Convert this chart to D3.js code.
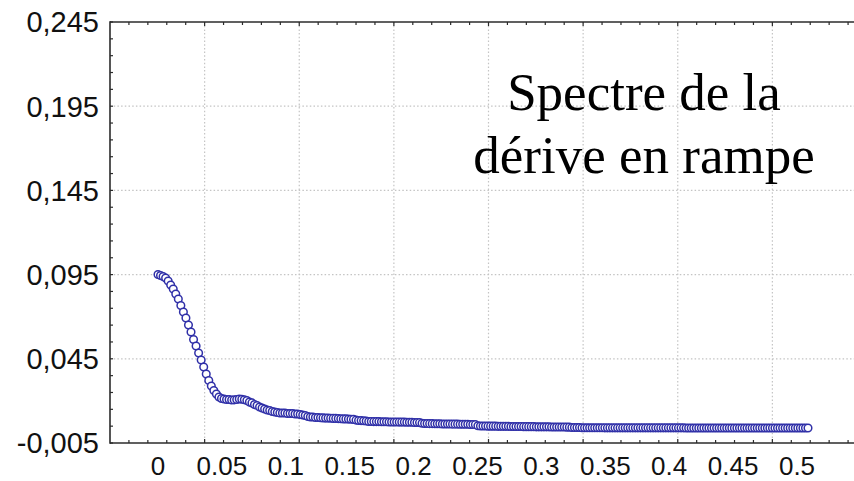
<!DOCTYPE html>
<html>
<head>
<meta charset="utf-8">
<script src="https://cdn.jsdelivr.net/npm/d3@7"></script>
<style>
  html, body { margin: 0; padding: 0; background: #fff; }
  svg { display: block; }
</style>
</head>
<body>
<svg id="chart" width="854" height="481"></svg>
<script>
// ---------------- DATA ----------------
const titleLines = ["Spectre de la", "dérive en rampe"];
const xTickLabels = ["0", "0.05", "0.1", "0.15", "0.2", "0.25", "0.3", "0.35", "0.4", "0.45", "0.5"];
const yTickValues = [-0.005, 0.045, 0.095, 0.145, 0.195, 0.245];
const freqStep = 1 / 512;
const spectrum = [
  0.0951, 0.0945, 0.0939, 0.0930, 0.0912, 0.0888, 0.0864, 0.0835, 0.0805, 0.0766,
  0.0728, 0.0692, 0.0651, 0.0609, 0.0565, 0.0526, 0.0484, 0.0443, 0.0401, 0.0360,
  0.0321, 0.0288, 0.0262, 0.0241, 0.0223,
  0.0214, 0.0211, 0.0208, 0.0208, 0.0205, 0.0206, 0.0208, 0.0211, 0.0210, 0.0207,
  0.0202, 0.0193, 0.0188, 0.0179, 0.0173, 0.0164, 0.0158, 0.0152, 0.0146, 0.0143,
  0.0137, 0.0134, 0.0131, 0.0128, 0.0128, 0.0128, 0.0125, 0.0125, 0.0125, 0.0122,
  0.0122, 0.0119, 0.0116, 0.0113, 0.0107, 0.0104, 0.0104,
  0.0101, 0.0101, 0.0100, 0.0099, 0.0098, 0.0098, 0.0097, 0.0096, 0.0096, 0.0095,
  0.0094, 0.0093, 0.0093, 0.0092, 0.0091, 0.0090,
  0.0086, 0.0084, 0.0083, 0.0082, 0.0081,
  0.0078, 0.0078, 0.0077, 0.0077, 0.0077, 0.0076, 0.0076, 0.0076, 0.0075, 0.0075,
  0.0075, 0.0075, 0.0074, 0.0074, 0.0074, 0.0073, 0.0073, 0.0073, 0.0072, 0.0072, 0.0071,
  0.0067, 0.0066, 0.0066, 0.0065, 0.0065, 0.0064, 0.0064, 0.0064, 0.0063, 0.0063,
  0.0063, 0.0063, 0.0062, 0.0062, 0.0062, 0.0061, 0.0061, 0.0061, 0.0061, 0.0060,
  0.0060, 0.0059,
  0.0052, 0.0051, 0.0051, 0.0051, 0.0050, 0.0050, 0.0050, 0.0050, 0.0049, 0.0049,
  0.0049, 0.0049, 0.0049, 0.0048, 0.0048, 0.0048, 0.0048, 0.0048, 0.0047, 0.0047,
  0.0047, 0.0047, 0.0047, 0.0046, 0.0046, 0.0046, 0.0046, 0.0046, 0.0046, 0.0045,
  0.0045, 0.0045, 0.0045, 0.0045, 0.0045, 0.0044, 0.0044,
  0.0042, 0.0042, 0.0042, 0.0042, 0.0041, 0.0041, 0.0041, 0.0041, 0.0041, 0.0041,
  0.0041, 0.0041, 0.0041, 0.0040, 0.0040, 0.0040, 0.0040, 0.0040, 0.0040, 0.0040,
  0.0040, 0.0040, 0.0040, 0.0040, 0.0040, 0.0040, 0.0040, 0.0040, 0.0040, 0.0040,
  0.0040, 0.0040, 0.0040, 0.0040, 0.0040, 0.0040, 0.0040, 0.0040, 0.0040, 0.0040,
  0.0040, 0.0040, 0.0040, 0.0040, 0.0040, 0.0039, 0.0039, 0.0039, 0.0039, 0.0039,
  0.0039, 0.0039, 0.0039, 0.0039, 0.0039, 0.0039, 0.0039, 0.0039, 0.0039, 0.0039,
  0.0039, 0.0039, 0.0039, 0.0039, 0.0039, 0.0039, 0.0039, 0.0039, 0.0039, 0.0039,
  0.0039, 0.0039, 0.0039, 0.0039, 0.0039, 0.0039, 0.0039, 0.0039, 0.0039, 0.0039,
  0.0039, 0.0039, 0.0039, 0.0039, 0.0039, 0.0039, 0.0039, 0.0039, 0.0039, 0.0039,
  0.0039, 0.0039, 0.0039, 0.0039
];
const frequencies = d3.range(spectrum.length).map(i => i * freqStep);

// ---------------- LAYOUT ----------------
const svg = d3.select("#chart");
const W = 854, H = 481;
const plot = { left: 110, top: 22, bottom: 443, right: 867 };
const axisColor = "#2b2b2b";
const gridColor = "#c4c4c4";
const markColor = "#3030a8";

const y = d3.scaleLinear().domain([-0.005, 0.245]).range([plot.bottom, plot.top]);
const x = d3.scaleLinear().domain([0, 0.5]).range([158, 808]);
// frame scale of the original plot box (major divisions)
const frameX = d3.scaleLinear().domain([0, 8]).range([plot.left, plot.right]);
const xLab = d3.scalePoint().domain(xTickLabels).range([158, 797]);

svg.append("rect").attr("width", W).attr("height", H).attr("fill", "#fff");

// grid
const grid = svg.append("g");
grid.selectAll("line.gv").data(d3.range(1, 9)).join("line")
  .attr("x1", d => frameX(d)).attr("x2", d => frameX(d))
  .attr("y1", plot.top).attr("y2", plot.bottom)
  .attr("stroke", gridColor).attr("stroke-width", 1.2).attr("stroke-dasharray", "1.5,2.2");
grid.selectAll("line.gh").data(yTickValues.slice(1, -1)).join("line")
  .attr("x1", plot.left).attr("x2", W)
  .attr("y1", d => y(d)).attr("y2", d => y(d))
  .attr("stroke", gridColor).attr("stroke-width", 1.2).attr("stroke-dasharray", "1.5,2.2");

// frame lines
const frame = svg.append("g").attr("stroke", axisColor).attr("stroke-width", 1.6);
frame.append("line").attr("x1", plot.left).attr("x2", W).attr("y1", plot.top).attr("y2", plot.top);
frame.append("line").attr("x1", plot.left).attr("x2", W).attr("y1", plot.bottom).attr("y2", plot.bottom);
frame.append("line").attr("x1", plot.left).attr("x2", plot.left).attr("y1", plot.top - 0.8).attr("y2", plot.bottom + 0.8);

// minor ticks (inside)
const xMinor = d3.range(0.2, 8.01, 0.2);
const ticks = svg.append("g").attr("stroke", axisColor).attr("stroke-width", 1.2);
ticks.selectAll("line.bt").data(xMinor).join("line")
  .attr("x1", d => frameX(d)).attr("x2", d => frameX(d))
  .attr("y1", plot.bottom).attr("y2", d => plot.bottom - (Math.abs(d - Math.round(d)) < 1e-6 ? 4 : 3));
ticks.selectAll("line.tt").data(xMinor).join("line")
  .attr("x1", d => frameX(d)).attr("x2", d => frameX(d))
  .attr("y1", plot.top).attr("y2", d => plot.top + (Math.abs(d - Math.round(d)) < 1e-6 ? 4 : 3));
const yMinor = d3.range(-0.005, 0.2451, 0.01);
ticks.selectAll("line.lt").data(yMinor).join("line")
  .attr("x1", plot.left).attr("x2", plot.left + 3)
  .attr("y1", d => y(d)).attr("y2", d => y(d));

// y labels
const fmt = d => d3.format(".3f")(d).replace(".", ",").replace("−", "-");
svg.append("g").selectAll("text").data(yTickValues).join("text")
  .attr("x", 99).attr("y", d => y(d)).attr("dy", "0.36em")
  .attr("text-anchor", "end")
  .attr("font-family", "Liberation Sans, Arial, sans-serif")
  .attr("font-size", 29).attr("fill", "#111")
  .text(fmt);

// x labels
svg.append("g").selectAll("text").data(xTickLabels).join("text")
  .attr("x", d => xLab(d)).attr("y", 475)
  .attr("text-anchor", "middle")
  .attr("font-family", "Liberation Sans, Arial, sans-serif")
  .attr("font-size", 26).attr("fill", "#111")
  .text(d => d);

// data points
svg.append("g").selectAll("circle").data(spectrum).join("circle")
  .attr("cx", (d, i) => x(frequencies[i]))
  .attr("cy", d => y(d))
  .attr("r", 3.8)
  .attr("fill", "#fff")
  .attr("stroke", markColor)
  .attr("stroke-width", 1.5);

// title
svg.append("g").selectAll("text").data(titleLines).join("text")
  .attr("x", 644).attr("y", (d, i) => 110 + i * 63)
  .attr("text-anchor", "middle")
  .attr("font-family", "Liberation Serif, Times New Roman, serif")
  .attr("font-size", 53).attr("fill", "#000")
  .text(d => d);
</script>
</body>
</html>
